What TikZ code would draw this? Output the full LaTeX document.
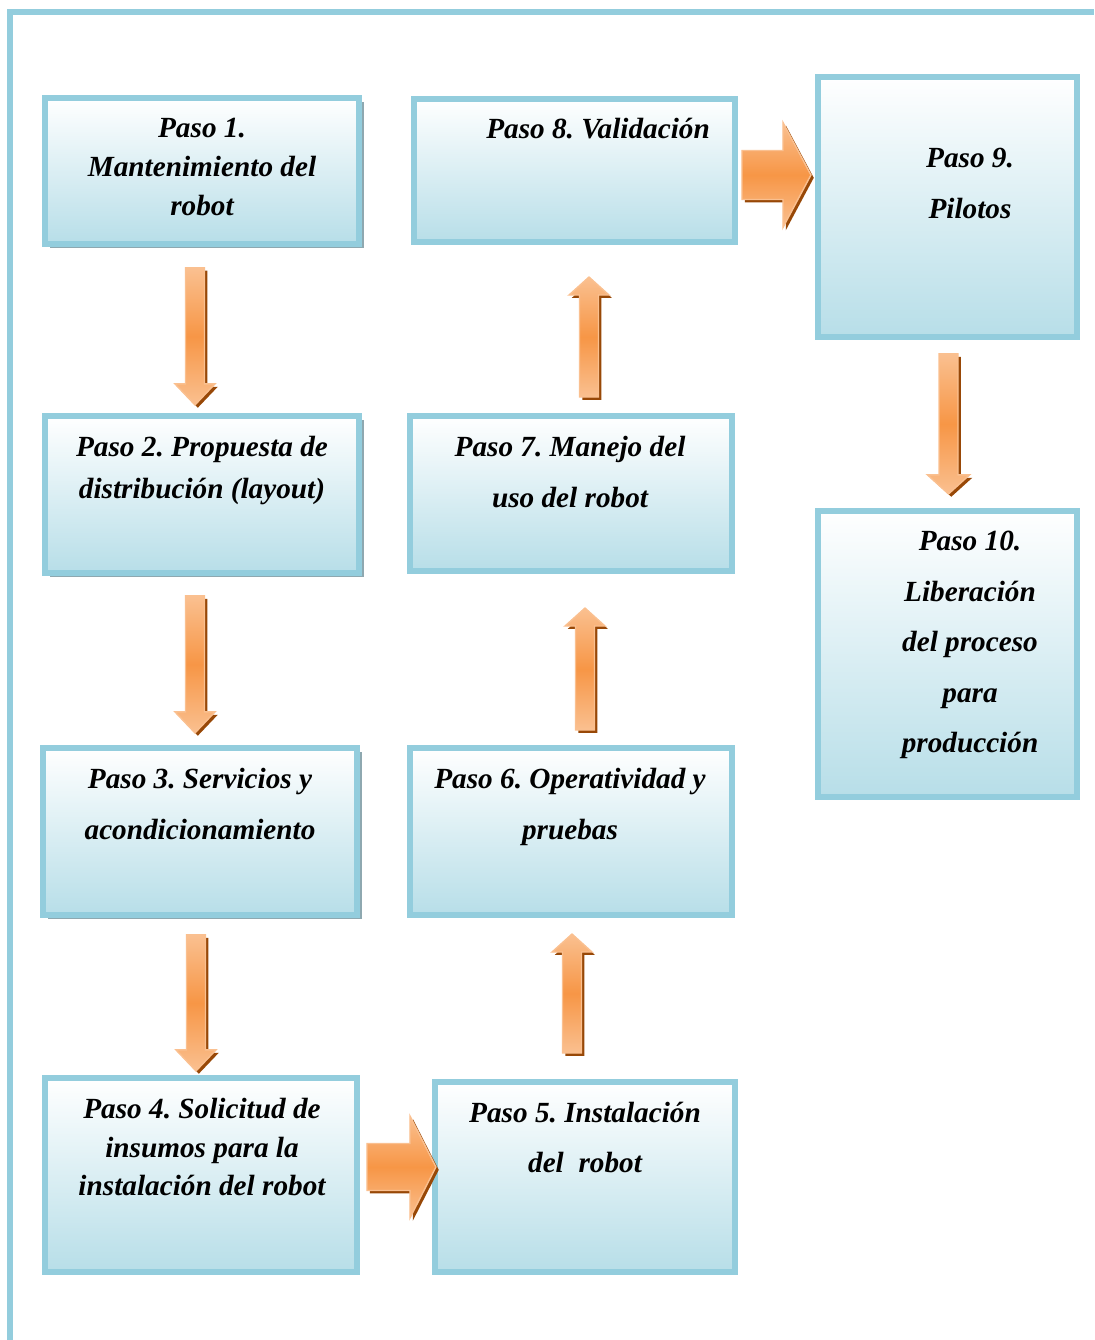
\documentclass[tikz,border=0pt]{standalone}
\usepackage{fontspec}
\setmainfont{Liberation Serif}
\frenchspacing
\usetikzlibrary{calc,positioning,shadows}
\definecolor{pasoborde}{HTML}{93CDDD}
\definecolor{pasofondo}{HTML}{B7DEE8}
\definecolor{pasosombra}{HTML}{8EA8B0}
\definecolor{flechaclara}{HTML}{FAC090}
\definecolor{flechamedia}{HTML}{F79646}
\definecolor{flechaoscura}{HTML}{984807}

% flecha de bloque: largo, ancho del cuerpo, ancho de la punta, largo de la punta
\tikzset{
  pics/flecha/.style n args={4}{code={
    \path[flechacuerpo] (0,#2/2)--(#1-#4,#2/2)--(#1-#4,#3/2)--(#1,0)
      --(#1-#4,-#3/2)--(#1-#4,-#2/2)--(0,-#2/2)--cycle;
  }}
}

\begin{document}
\begin{tikzpicture}[x=0.025cm,y=0.025cm,line join=miter,
  paso/.style={draw=pasoborde,line width=4.2pt,top color=white,
    bottom color=pasofondo,inner sep=0pt},
  tam/.style 2 args={minimum width=#1*0.025cm,minimum height=#2*0.025cm},
  sombra/.style={drop shadow={fill=pasosombra,opacity=1,
    shadow xshift=3.2pt,shadow yshift=-3.2pt}},
  texto/.style={anchor=north,align=center,inner sep=0pt,
    font=\fontsize{20.8}{#1}\selectfont\bfseries\itshape},
  texto/.default=36.3,
  flechacuerpo/.style={draw=flechaclara,line width=1pt,
    top color=flechaclara,bottom color=flechaclara,middle color=flechamedia,
    drop shadow={fill=flechaoscura,opacity=1,
      shadow xshift=2pt,shadow yshift=-2pt}}]
\useasboundingbox (0,0) rectangle (1094,1340);
\draw[pasoborde,line width=3.8pt] (10,0) -- (10,1328) -- (1094,1328);

% columna izquierda
\node[paso,sombra,tam={314}{146}] (paso1) at (202,1169) {};
\node[paso,sombra,tam={314}{157}] (paso2) at (202,845.5) {};
\node[paso,sombra,tam={314}{167}] (paso3) at (200,508.5) {};
\node[paso,tam={312}{194}] (paso4) at (201,165) {};
% columna central
\node[paso,tam={300}{190}] (paso5) at (585,163) {};
\node[paso,tam={322}{167}] (paso6) at (571,508.5) {};
\node[paso,tam={322}{155}] (paso7) at (571,846.5) {};
\node[paso,tam={321}{143}] (paso8) at (574.5,1169.5) {};
% columna derecha
\node[paso,tam={259}{260}] (paso9) at (947.5,1133) {};
\node[paso,tam={259}{286}] (paso10) at (947.5,686) {};

\node[texto=27.7] (t1) at ($(paso1.north)+(0,-23)$)
  {Paso 1.\\Mantenimiento del\\robot};
\node[texto=29.9] (t2) at ($(paso2.north)+(0,-23)$)
  {Paso 2. Propuesta de\\distribución (layout)};
\node[texto] (t3) at ($(paso3.north)+(0,-23)$)
  {Paso 3. Servicios y\\acondicionamiento};
\node[texto=27.4] (t4) at ($(paso4.north)+(1,-23)$)
  {Paso 4. Solicitud de\\insumos para la\\instalación del robot};
\node[texto=35.6] (t5) at ($(paso5.north)+(0,-23)$)
  {Paso 5. Instalación\\del~ robot};
\node[texto] (t6) at ($(paso6.north)+(-1,-23)$)
  {Paso 6. Operatividad y\\pruebas};
\node[texto] (t7) at ($(paso7.north)+(-1,-23)$)
  {Paso 7. Manejo del\\uso del robot};
\node[texto] (t8) at ($(paso8.north)+(23.5,-22)$)
  {Paso 8. Validación};
\node[texto] (t9) at ($(paso9.north)+(22.5,-74)$)
  {Paso 9.\\Pilotos};
\node[texto=35.9] (t10) at ($(paso10.north)+(22.5,-23)$)
  {Paso 10.\\Liberación\\del proceso\\para\\producción};

% flechas entre pasos
\pic[rotate=-90] at ($(paso1.south)+(-7,-21)$) {flecha={137}{19}{40}{21}};
\pic[rotate=-90] at ($(paso2.south)+(-7,-20)$) {flecha={137}{19}{40}{21}};
\pic[rotate=-90] at ($(paso3.south)+(-4,-17)$) {flecha={136}{19}{40}{21}};
\pic at ($(paso4.east)+(7,8)$) {flecha={69}{47}{102}{26}};
\pic[rotate=90] at ($(paso5.north)+(-13,26)$) {flecha={119}{19}{40}{18}};
\pic[rotate=90] at ($(paso6.north)+(14,15)$) {flecha={122}{19}{40}{18}};
\pic[rotate=90] at ($(paso7.north)+(18,16)$) {flecha={120}{19}{40}{18}};
\pic at ($(paso8.east)+(4,-4.5)$) {flecha={69}{49}{105}{28}};
\pic[rotate=-90] at ($(paso9.south)+(1,-14)$) {flecha={140}{19}{42}{19}};
\end{tikzpicture}
\end{document}
